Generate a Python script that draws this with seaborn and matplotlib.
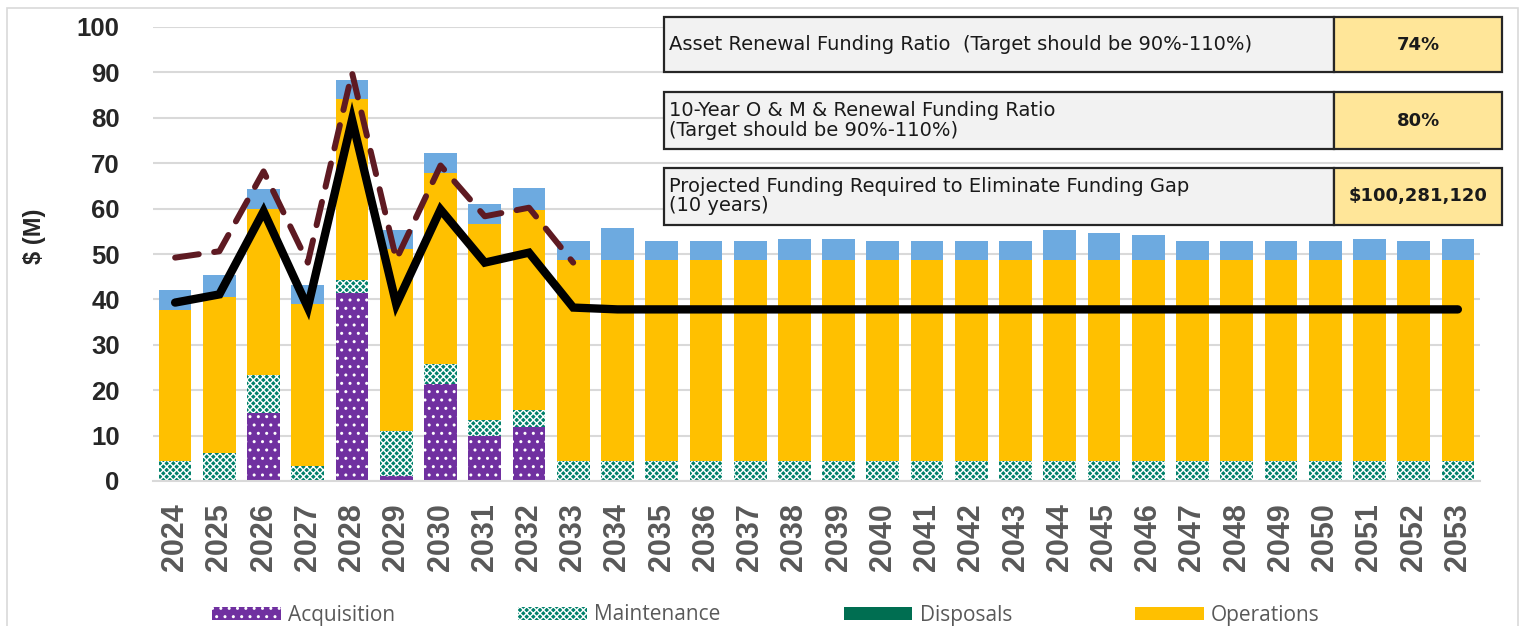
import numpy as np
import pandas as pd
import matplotlib
matplotlib.use("Agg")
import matplotlib.pyplot as plt
import matplotlib.patches as mpatches
import seaborn as sns

# ---------------- data ----------------
years = [str(y) for y in range(2024, 2054)]
acquisition = [0, 0, 14.9, 0, 41.5, 1.0, 21.3, 9.9, 12.0] + [0] * 21
maintenance = [4.4, 6.2, 8.4, 3.2, 2.7, 10.1, 4.5, 3.6, 3.6] + [4.4] * 21
disposals = [0] * 30
operations = [33.2, 34.3, 36.7, 35.7, 40.0, 40.0, 42.1, 43.1, 44.1] + [44.2] * 21
renewal = [4.4, 4.8, 4.3, 4.2, 4.2, 4.2, 4.4, 4.5, 4.8, 4.3,
           7.2, 4.3, 4.3, 4.3, 4.7, 4.7, 4.3, 4.2, 4.3, 4.3,
           6.7, 6.1, 5.5, 4.3, 4.3, 4.3, 4.2, 4.6, 4.3, 4.7]
budget = [39.3, 41.1, 59.4, 38.2, 79.6, 38.9, 59.8, 48.1, 50.3, 38.2] + [37.8] * 20
planned = [49.2, 50.6, 68.2, 48.1, 89.9, 48.8, 69.5, 58.3, 60.2, 48.1]

table_labels = ["Asset Renewal Funding Ratio  (Target should be 90%-110%)",
                "10-Year O & M & Renewal Funding Ratio\n(Target should be 90%-110%)",
                "Projected Funding Required to Eliminate Funding Gap\n(10 years)"]
table_values = ["74%", "80%", "$100,281,120"]
legend_labels = ["Acquisition", "Maintenance", "Disposals", "Operations"]

# ---------------- style ----------------
sns.set_style("white")
plt.rcParams["font.family"] = ["Liberation Sans", "DejaVu Sans"]
plt.rcParams["hatch.linewidth"] = 1.0

C_ACQ = "#7030A0"
C_MAINT = "#00806A"
C_DISP = "#006E51"
C_OPS = "#FFC000"
C_REN = "#6DAAE0"

W, H = 1523, 626
fig = plt.figure(figsize=(W / 100, H / 100), dpi=100)
ax = fig.add_axes([153 / W, 145 / H, 1327 / W, 454 / H])

df = pd.DataFrame({"year": years, "acq": acquisition, "maint": maintenance,
                   "disp": disposals, "ops": operations, "ren": renewal})
df["c_acq"] = df["acq"]
df["c_maint"] = df["c_acq"] + df["maint"]
df["c_disp"] = df["c_maint"] + df["disp"]
df["c_ops"] = df["c_disp"] + df["ops"]
df["c_ren"] = df["c_ops"] + df["ren"]

bw = 0.74
layers = [("c_ren", C_REN, None), ("c_ops", C_OPS, None), ("c_disp", C_DISP, None),
          ("c_maint", C_MAINT, "xxxxx"), ("c_acq", C_ACQ, "..")]
for col, colr, hatch in layers:
    kw = dict(linewidth=0)
    if hatch:
        kw.update(hatch=hatch, edgecolor="white")
    sns.barplot(data=df, x="year", y=col, color=colr, saturation=1, width=bw,
                ax=ax, errorbar=None, **kw)

idx = np.arange(len(years))
sns.lineplot(x=idx, y=budget, color="black", linewidth=6, ax=ax,
             solid_capstyle="round", solid_joinstyle="miter")
sns.lineplot(x=idx[:len(planned)], y=planned, color="#5E1A22", linewidth=4.3, ax=ax,
             linestyle=(0, (4, 2.6)), dash_capstyle="round")

ax.set_xlim(-0.5, len(years) - 0.5)
ax.set_ylim(0, 100)
ax.set_yticks(range(0, 101, 10))
ax.yaxis.grid(True, color="#D9D9D9", linewidth=1.5)
ax.set_axisbelow(True)
for s in ["left", "right", "top"]:
    ax.spines[s].set_visible(False)
ax.spines["bottom"].set_color("#D9D9D9")
ax.spines["bottom"].set_linewidth(1.5)

ax.tick_params(axis="y", length=0, pad=24, labelsize=18.5)
ax.tick_params(axis="x", length=0, pad=16, labelsize=22, labelcolor="#595959")
for t in ax.get_yticklabels():
    t.set_fontweight("bold")
for t in ax.get_xticklabels():
    t.set_fontweight("bold")
    t.set_rotation(90)
ax.set_xlabel("")
ax.set_ylabel("$ (M)", fontsize=17, fontweight="bold")
ax.yaxis.set_label_coords(-0.0805, 0.54)

# ---------------- info table ----------------
rows = [(17, 72), (92, 149), (168, 225)]
x0, xv, x1 = 664, 1334, 1502
for (ya, yb), lab, val in zip(rows, table_labels, table_values):
    fig.add_artist(mpatches.Rectangle((x0 / W, 1 - yb / H), (xv - x0) / W, (yb - ya) / H,
                                      transform=fig.transFigure, facecolor="#F2F2F2",
                                      edgecolor="#262626", linewidth=1.6, zorder=5))
    fig.add_artist(mpatches.Rectangle((xv / W, 1 - yb / H), (x1 - xv) / W, (yb - ya) / H,
                                      transform=fig.transFigure, facecolor="#FFE699",
                                      edgecolor="#262626", linewidth=1.6, zorder=5))
    ym = (ya + yb) / 2
    fig.text((x0 + 5) / W, 1 - ym / H, lab, ha="left", va="center", fontsize=14,
             family=["DejaVu Sans"], color="#1a1a1a", linespacing=1.0, zorder=6)
    fig.text((xv + x1) / 2 / W, 1 - ym / H, val, ha="center", va="center", fontsize=13,
             family=["DejaVu Sans"], fontweight="bold", color="#1a1a1a", zorder=6)

# ---------------- legend ----------------
handles = [
    mpatches.Patch(facecolor=C_ACQ, hatch="..", edgecolor="white", linewidth=0),
    mpatches.Patch(facecolor=C_MAINT, hatch="xxxxx", edgecolor="white", linewidth=0),
    mpatches.Patch(facecolor=C_DISP, linewidth=0),
    mpatches.Patch(facecolor=C_OPS, linewidth=0),
]
leg = fig.legend(handles, legend_labels, loc="center", bbox_to_anchor=(0.503, 11 / H),
                 ncol=4, frameon=False, prop={"family": ["Open Sans", "DejaVu Sans"], "size": 15},
                 handlelength=3.3, handleheight=0.6, handletextpad=0.35, columnspacing=5.9,
                 labelcolor="#595959")

# outer chart border
fig.add_artist(mpatches.Rectangle((7 / W, -0.02), (1518 - 7) / W, (H - 8) / H + 0.02,
                                  transform=fig.transFigure, fill=False,
                                  edgecolor="#D9D9D9", linewidth=1.2))

fig.savefig("out.png", dpi=100)
